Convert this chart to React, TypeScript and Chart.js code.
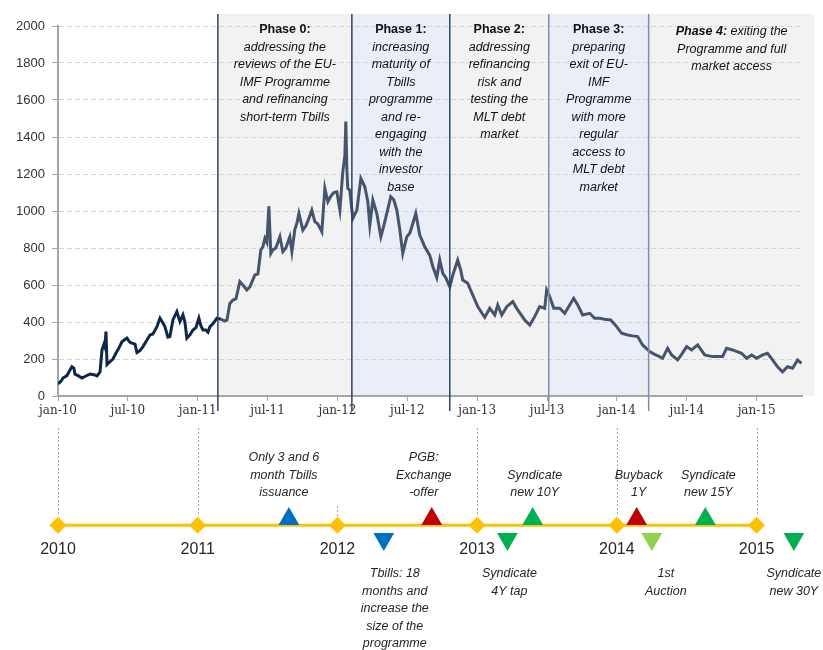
import React, { useEffect, useRef } from 'react';
import { Chart, registerables } from 'chart.js';
Chart.register(...registerables);

// ---------- DATA ----------
// x: months elapsed since January 2010 ; y: spread (bp)
const spreadMonths = [
  0, 0.26, 0.43, 0.77, 1.03, 1.2, 1.37, 1.46, 1.72, 2.06,
  2.4, 2.75, 3.09, 3.35, 3.61, 3.78, 3.95, 4.03, 4.12, 4.21,
  4.46, 4.72, 4.98, 5.24, 5.49, 5.75, 5.92, 6.18, 6.35, 6.61,
  6.78, 7.04, 7.3, 7.64, 7.9, 8.15, 8.5, 8.76, 9.01, 9.18,
  9.44, 9.61, 9.87, 10.21, 10.47, 10.73, 10.9, 11.07, 11.33, 11.59,
  11.85, 12.1, 12.27, 12.45, 12.7, 12.88, 13.05, 13.3, 13.65, 13.99,
  14.33, 14.51, 14.76, 15.02, 15.28, 15.62, 15.88, 16.22, 16.48, 16.91,
  17.17, 17.42, 17.6, 17.77, 17.94, 18.11, 18.28, 18.45, 18.71, 19.06,
  19.31, 19.57, 19.91, 20.09, 20.34, 20.52, 20.69, 21.03, 21.29, 21.55,
  21.8, 22.06, 22.32, 22.66, 22.92, 23.18, 23.43, 23.69, 23.95, 24.21,
  24.46, 24.64, 24.72, 24.81, 24.89, 25.06, 25.32, 25.67, 26.01, 26.35,
  26.61, 26.78, 27.04, 27.38, 27.73, 27.98, 28.24, 28.58, 28.84, 29.1,
  29.36, 29.61, 29.96, 30.21, 30.39, 30.73, 31.07, 31.5, 31.93, 32.19,
  32.53, 32.79, 33.05, 33.3, 33.65, 33.91, 34.33, 34.59, 34.76, 35.19,
  35.62, 36.05, 36.39, 36.65, 37.08, 37.51, 37.77, 38.11, 38.54, 39.06,
  39.48, 40.09, 40.52, 40.94, 41.37, 41.8, 41.97, 42.23, 42.58, 43.09,
  43.52, 43.95, 44.29, 44.64, 45.06, 45.67, 46.09, 46.52, 46.95, 47.47,
  47.98, 48.41, 48.93, 49.36, 49.79, 50.21, 50.82, 51.24, 51.67, 51.93,
  52.36, 52.7, 53.22, 53.56, 53.99, 54.42, 54.94, 55.54, 56.22, 57.08,
  57.42, 57.94, 58.71, 59.14, 59.57, 60, 60.52, 60.94, 61.37, 61.8,
  62.23, 62.66, 63.09, 63.52, 63.86,
];
const spreadValues = [
  65, 80, 97, 110, 140, 158, 150, 118, 110, 97,
  108, 119, 115, 108, 130, 249, 280, 265, 348, 170,
  185, 200, 232, 260, 293, 305, 313, 290, 286, 280,
  235, 245, 267, 303, 330, 335, 375, 421, 395, 375,
  318, 321, 411, 456, 402, 438, 400, 313, 330, 357,
  370, 421, 380, 357, 357, 345, 375, 390, 421, 415,
  405, 411, 500, 519, 525, 618, 600, 573, 590, 654,
  660, 789, 807, 852, 830, 1025, 771, 790, 800, 861,
  780, 800, 861, 780, 900, 934, 988, 897, 920, 960,
  1005, 942, 930, 888, 1123, 1050, 1080, 1100, 1104, 1005,
  1212, 1300, 1483, 1220, 1123, 1113, 960, 1005, 1176, 1131,
  1050, 924, 1059, 987, 861, 920, 987, 1077, 1060, 1005,
  897, 771, 861, 880, 915, 987, 870, 807, 760, 700,
  640, 735, 663, 640, 591, 654, 735, 680, 627, 609,
  546, 483, 450, 425, 474, 438, 492, 438, 483, 510,
  465, 411, 384, 429, 483, 474, 573, 537, 474, 474,
  447, 492, 528, 492, 438, 447, 420, 420, 415, 411,
  375, 339, 330, 325, 321, 276, 240, 225, 213, 204,
  258, 222, 195, 225, 267, 249, 276, 222, 213, 213,
  258, 249, 231, 204, 222, 204, 222, 231, 195, 158,
  131, 158, 150, 195, 177,
];

const tickMonths = [0, 6, 12, 18, 24, 30, 36, 42, 48, 54, 60];
const tickLabels = ['jan-10', 'jul-10', 'jan-11', 'jul-11', 'jan-12', 'jul-12', 'jan-13', 'jul-13', 'jan-14', 'jul-14', 'jan-15'];
const yTicksMax = 2000;
const xMaxMonth = 63.9;

const phaseStarts = [13.73, 25.24, 33.65, 42.15, 50.73];
const phaseEnd = 64.98;
const phaseTitles = ['Phase 0:', 'Phase 1:', 'Phase 2:', 'Phase 3:', 'Phase 4:'];
const phaseTitleInline = [false, false, false, false, true];
const phaseBodies = [
  ['addressing the', 'reviews of the EU-', 'IMF Programme', 'and refinancing', 'short-term Tbills'],
  ['increasing', 'maturity of', 'Tbills', 'programme', 'and re-', 'engaging', 'with the', 'investor', 'base'],
  ['addressing', 'refinancing', 'risk and', 'testing the', 'MLT debt', 'market'],
  ['preparing', 'exit of EU-', 'IMF', 'Programme', 'with more', 'regular', 'access to', 'MLT debt', 'market'],
  [' exiting the', 'Programme and full', 'market access'],
];

const yearMonths = [0, 12, 24, 36, 48, 60];
const yearLabels = ['2010', '2011', '2012', '2013', '2014', '2015'];
const yearConnectorFull = [true, true, false, true, true, true];

const eventMonths = [19.83, 27.98, 32.1, 38.6, 40.77, 49.7, 51.0, 55.6, 63.2];
const eventDirections = ['up', 'down', 'up', 'down', 'up', 'up', 'down', 'up', 'down'];
const eventColors = ['#0070c0', '#0070c0', '#c00000', '#00b050', '#00b050', '#c00000', '#92d050', '#00b050', '#00b050'];
const eventLabels = [
  ['Only 3 and 6', 'month Tbills', 'issuance'],
  ['Tbills: 18', 'months and', 'increase the', 'size of the', 'programme'],
  ['PGB:', 'Exchange', '-offer'],
  ['Syndicate', '4Y tap'],
  ['Syndicate', 'new 10Y'],
  ['Buyback', '1Y'],
  ['1st', 'Auction'],
  ['Syndicate', 'new 15Y'],
  ['Syndicate', 'new 30Y'],
];

// ---------- LAYOUT / STYLE ----------
const W = 823;
const TOP_H = 420;
const BOTTOM_H = 230;
const SANS = '"Liberation Sans", Arial, sans-serif';
const SERIF = '"DejaVu Serif", serif';
const eventLabelShiftPx = [-5, 11, -8, 2, 2, 2, 14, 3, 0];
const UP_Y = 0.5;
const DOWN_Y = -1.1;

const phasePlugin = {
  id: 'phases',
  beforeDraw(chart: any) {
    const { ctx, scales } = chart;
    const x = scales.x, y = scales.y;
    const top = y.top - 12;
    const bottom = y.bottom;
    ctx.save();
    phaseStarts.forEach((s, i) => {
      const x0 = x.getPixelForValue(s);
      const x1 = x.getPixelForValue(i + 1 < phaseStarts.length ? phaseStarts[i + 1] : phaseEnd);
      ctx.fillStyle = i % 2 === 1 ? '#e9eef7' : '#f2f2f2';
      ctx.fillRect(x0, top, x1 - x0, bottom - top);
    });
    ctx.restore();
  },
  afterDatasetsDraw(chart: any) {
    const { ctx, scales } = chart;
    const x = scales.x, y = scales.y;
    const top = y.top - 12;
    ctx.save();
    phaseStarts.forEach((s, i) => {
      const px = x.getPixelForValue(s);
      ctx.strokeStyle = i < 3 ? '#2c416c' : '#7f90ad';
      ctx.lineWidth = 1.5;
      ctx.beginPath();
      ctx.moveTo(px, top);
      ctx.lineTo(px, y.bottom + 15);
      ctx.stroke();
    });
    const lh = 17.5;
    ctx.fillStyle = '#111111';
    ctx.textBaseline = 'middle';
    phaseStarts.forEach((s, i) => {
      const x0 = x.getPixelForValue(s);
      const x1 = x.getPixelForValue(i + 1 < phaseStarts.length ? phaseStarts[i + 1] : phaseEnd);
      const cx = (x0 + x1) / 2;
      const bodyFont = 'italic 12.5px ' + SANS;
      if (phaseTitleInline[i]) {
        const ty = y.top + 6;
        const titleFont = 'italic bold 12.5px ' + SANS;
        ctx.font = titleFont;
        const tw = ctx.measureText(phaseTitles[i]).width;
        ctx.font = bodyFont;
        const bw = ctx.measureText(phaseBodies[i][0]).width;
        const start = cx - (tw + bw) / 2;
        ctx.textAlign = 'left';
        ctx.font = titleFont;
        ctx.fillText(phaseTitles[i], start, ty);
        ctx.font = bodyFont;
        ctx.fillText(phaseBodies[i][0], start + tw, ty);
        ctx.textAlign = 'center';
        phaseBodies[i].slice(1).forEach((t, k) => ctx.fillText(t, cx, ty + (k + 1) * lh));
      } else {
        const ty = y.top + 4;
        ctx.textAlign = 'center';
        ctx.font = 'bold 12.5px ' + SANS;
        ctx.fillText(phaseTitles[i], cx, ty);
        ctx.font = bodyFont;
        phaseBodies[i].forEach((t, k) => ctx.fillText(t, cx, ty + (k + 1) * lh));
      }
    });
    ctx.restore();
  },
};

const timelinePlugin = {
  id: 'timeline',
  beforeDatasetsDraw(chart: any) {
    const { ctx, scales } = chart;
    const x = scales.x, y = scales.y;
    const y0 = y.getPixelForValue(0);
    ctx.save();
    ctx.strokeStyle = '#a6a6a6';
    ctx.lineWidth = 1;
    ctx.setLineDash([2, 2]);
    yearMonths.forEach((m, i) => {
      const px = Math.round(x.getPixelForValue(m)) + 0.5;
      ctx.beginPath();
      ctx.moveTo(px, yearConnectorFull[i] ? 8 : y0 - 19);
      ctx.lineTo(px, y0 - 9);
      ctx.stroke();
    });
    ctx.restore();
  },
  afterDatasetsDraw(chart: any) {
    const { ctx, scales } = chart;
    const x = scales.x, y = scales.y;
    const y0 = y.getPixelForValue(0);
    ctx.save();
    ctx.textAlign = 'center';
    ctx.textBaseline = 'middle';
    ctx.fillStyle = '#262626';
    ctx.font = '16px ' + SANS;
    yearMonths.forEach((m, i) => ctx.fillText(yearLabels[i], x.getPixelForValue(m), y0 + 24));
    ctx.font = 'italic 12.5px ' + SANS;
    const lh = 17.5;
    eventMonths.forEach((m, i) => {
      const cx = x.getPixelForValue(m) + eventLabelShiftPx[i];
      const lines = eventLabels[i];
      if (eventDirections[i] === 'up') {
        const apex = y.getPixelForValue(UP_Y) - 12;
        const last = apex - 14;
        lines.forEach((t, k) => ctx.fillText(t, cx, last - (lines.length - 1 - k) * lh));
      } else {
        const apex = y.getPixelForValue(DOWN_Y) + 12;
        const first = apex + 23;
        lines.forEach((t, k) => ctx.fillText(t, cx, first + k * lh));
      }
    });
    ctx.restore();
  },
};

export default function App() {
  const topRef = useRef<HTMLCanvasElement>(null);
  const botRef = useRef<HTMLCanvasElement>(null);

  useEffect(() => {
    const c1 = new Chart(topRef.current as HTMLCanvasElement, {
      type: 'line',
      data: {
        datasets: [
          {
            data: spreadMonths.map((m, i) => ({ x: m, y: spreadValues[i] })),
            borderColor: '#0f2748',
            borderWidth: 3,
            pointRadius: 0,
            tension: 0,
            segment: {
              borderColor: (c: any) => (c.p0.parsed.x >= phaseStarts[0] ? '#46556b' : '#0f2748'),
            },
          } as any,
        ],
      },
      options: {
        responsive: false,
        animation: false,
        devicePixelRatio: 1,
        layout: { padding: { top: 26, right: 21, left: 0, bottom: 0 } },
        plugins: { legend: { display: false }, tooltip: { enabled: false } },
        scales: {
          x: {
            type: 'linear',
            min: 0,
            max: xMaxMonth,
            afterBuildTicks: (s: any) => {
              s.ticks = tickMonths.map((v) => ({ value: v }));
            },
            afterFit: (s: any) => {
              s.height = 24;
            },
            ticks: {
              callback: (v: any) => tickLabels[tickMonths.indexOf(Number(v))] ?? '',
              autoSkip: false,
              maxRotation: 0,
              font: { family: SERIF, size: 12 },
              color: '#333333',
              padding: 3,
            },
            grid: { drawOnChartArea: false, drawTicks: true, tickLength: 5, tickColor: '#a6a6a6', tickWidth: 1 },
            border: { display: true, color: '#a6a6a6', width: 2 },
          },
          y: {
            min: 0,
            max: yTicksMax,
            afterFit: (s: any) => {
              s.width = 58;
            },
            ticks: {
              stepSize: 200,
              callback: (v: any) => String(v),
              font: { family: SANS, size: 13 },
              color: '#333333',
              padding: 7,
            },
            grid: { color: '#d4d4d4', lineWidth: 1, tickLength: 6, tickColor: '#a6a6a6' },
            border: { display: true, color: '#a6a6a6', width: 2, dash: [5, 3] },
          },
        },
      } as any,
      plugins: [phasePlugin],
    });

    const c2 = new Chart(botRef.current as HTMLCanvasElement, {
      type: 'line',
      data: {
        datasets: [
          {
            data: eventMonths.map((m, i) => ({ x: m, y: eventDirections[i] === 'up' ? UP_Y : DOWN_Y })),
            showLine: false,
            pointStyle: 'triangle',
            pointRadius: 12,
            pointRotation: eventDirections.map((d) => (d === 'up' ? 0 : 180)),
            pointBackgroundColor: eventColors,
            pointBorderColor: eventColors,
            pointBorderWidth: 0,
            clip: false,
          } as any,
          {
            data: yearMonths.map((m) => ({ x: m, y: 0 })),
            showLine: false,
            pointStyle: 'rectRot',
            pointRadius: 8.5,
            pointBackgroundColor: '#ffc000',
            pointBorderColor: '#ffc000',
            pointBorderWidth: 0,
            clip: false,
          } as any,
          {
            data: [
              { x: yearMonths[0], y: 0 },
              { x: yearMonths[yearMonths.length - 1], y: 0 },
            ],
            borderColor: '#ffc000',
            borderWidth: 3,
            pointRadius: 0,
            clip: false,
          } as any,
        ],
      },
      options: {
        responsive: false,
        animation: false,
        devicePixelRatio: 1,
        layout: { padding: { top: 0, right: 21, left: 58, bottom: 0 } },
        plugins: { legend: { display: false }, tooltip: { enabled: false } },
        scales: {
          x: { type: 'linear', min: 0, max: xMaxMonth, display: false },
          y: { min: -9, max: 7.43, display: false },
        },
      } as any,
      plugins: [timelinePlugin],
    });

    return () => {
      c1.destroy();
      c2.destroy();
    };
  }, []);

  return (
    <div style={{ position: 'absolute', left: 0, top: 0, width: W, height: TOP_H + BOTTOM_H, background: '#ffffff' }}>
      <canvas ref={topRef} width={W} height={TOP_H} style={{ display: 'block' }} />
      <canvas ref={botRef} width={W} height={BOTTOM_H} style={{ display: 'block' }} />
    </div>
  );
}
